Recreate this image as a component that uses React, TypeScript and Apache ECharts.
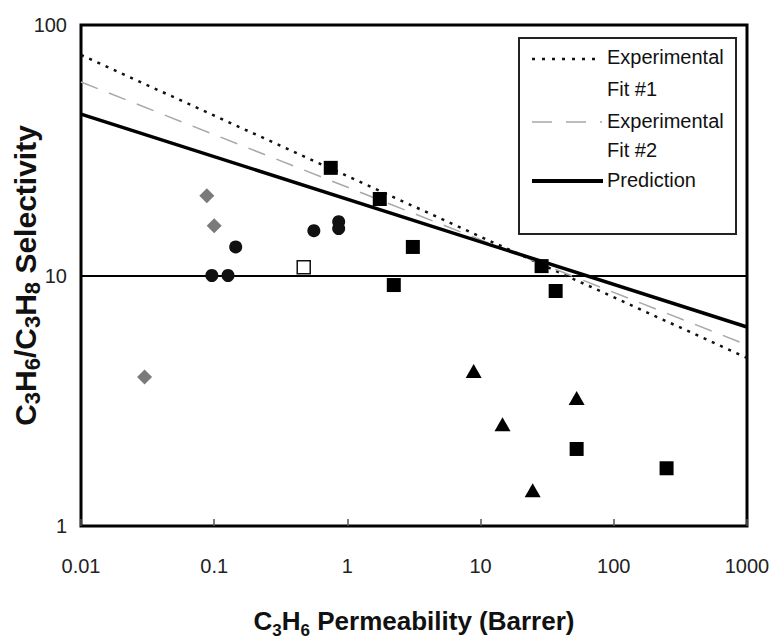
import React, { useEffect, useRef } from "react";
import * as echarts from "echarts";

// Axis ticks
const xTicks = [0.01, 0.1, 1, 10, 100, 1000];
const xTickLabels = ["0.01", "0.1", "1", "10", "100", "1000"];
const yTicks = [1, 10, 100];
const yTickLabels = ["1", "10", "100"];

// Fit / prediction lines (straight on log-log), endpoints at x = 0.01 and 1000
const lineX = [0.01, 1000];
const fit1Y = [75.9, 4.69];
const fit2Y = [59.2, 5.28];
const predictionY = [44.1, 6.23];

// Scatter data (C3H6 permeability [Barrer], selectivity)
const diamondX = [0.088, 0.1, 0.03];
const diamondY = [20.8, 15.8, 3.93];

const circleX = [0.096, 0.127, 0.145, 0.56, 0.86, 0.86];
const circleY = [10.0, 10.0, 13.0, 15.1, 16.4, 15.4];

const openSquareX = [0.47];
const openSquareY = [10.8];

const squareX = [0.75, 1.75, 3.1, 2.23, 28.7, 36.6, 52.6, 249];
const squareY = [26.9, 20.2, 13.0, 9.16, 10.9, 8.67, 2.03, 1.7];

const triangleX = [8.87, 14.6, 24.6, 52.6];
const triangleY = [4.16, 2.55, 1.39, 3.24];

const zip = (xs: number[], ys: number[]) => xs.map((x, i) => [x, ys[i]]);

const FONT = "'Liberation Sans', Arial, Helvetica, sans-serif";

function tickLabel(ticks: number[], labels: string[], v: number) {
  const i = ticks.findIndex((t) => Math.abs(Math.log10(t) - Math.log10(v)) < 1e-6);
  return i >= 0 ? labels[i] : "";
}

export default function App() {
  const ref = useRef<HTMLDivElement>(null);

  useEffect(() => {
    document.body.style.margin = "0";
    if (!ref.current) return;
    const chart = echarts.init(ref.current, undefined, { renderer: "svg" });

    const option: any = {
      animation: false,
      backgroundColor: "#fff",
      grid: {
        left: 81,
        right: 29,
        top: 25,
        bottom: 113,
        show: true,
        borderColor: "#000",
        borderWidth: 3,
        backgroundColor: "transparent",
        containLabel: false,
        outerBoundsMode: "none",
      },
      xAxis: {
        type: "log",
        logBase: 10,
        min: 0.01,
        max: 1000,
        axisLine: { show: false },
        axisTick: { show: true, inside: true, length: 7, lineStyle: { color: "#555", width: 1.5 } },
        splitLine: { show: false },
        axisLabel: {
          margin: 30,
          fontSize: 20,
          color: "#222",
          fontFamily: FONT,
          formatter: (v: number) => tickLabel(xTicks, xTickLabels, v),
        },
        name: "{b|C}{s|3}{b|H}{s|6}{b| Permeability (Barrer)}",
        nameLocation: "middle",
        nameGap: 81,
        nameMoveOverlap: false,
        nameTextStyle: {
          rich: {
            b: { fontSize: 26, fontWeight: "bold", fontFamily: FONT, color: "#111", lineHeight: 28 },
            s: {
              fontSize: 17,
              fontWeight: "bold",
              fontFamily: FONT,
              color: "#111",
              lineHeight: 28,
              verticalAlign: "bottom",
              padding: [0, 0, -4, 0],
            },
          },
        },
      },
      yAxis: {
        type: "log",
        logBase: 10,
        min: 1,
        max: 100,
        axisLine: { show: false },
        axisTick: { show: false },
        splitLine: { show: true, lineStyle: { color: "#000", width: 2 } },
        axisLabel: {
          margin: 14,
          fontSize: 20,
          color: "#222",
          fontFamily: FONT,
          formatter: (v: number) => tickLabel(yTicks, yTickLabels, v),
        },
        name: "{b|C}{s|3}{b|H}{s|6}{b|/C}{s|3}{b|H}{s|8}{b| Selectivity}",
        nameLocation: "middle",
        nameRotate: 90,
        nameGap: 40,
        nameMoveOverlap: false,
        nameTextStyle: {
          rich: {
            b: { fontSize: 30, fontWeight: "bold", fontFamily: FONT, color: "#111", lineHeight: 32 },
            s: {
              fontSize: 22,
              fontWeight: "bold",
              fontFamily: FONT,
              color: "#111",
              lineHeight: 32,
              verticalAlign: "bottom",
              padding: [0, 0, -2, 0],
            },
          },
        },
      },
      series: [
        {
          name: "Experimental Fit #1",
          type: "line",
          data: zip(lineX, fit1Y),
          symbol: "none",
          lineStyle: { color: "#111", width: 2.5, type: [3, 6] },
          z: 2,
        },
        {
          name: "Experimental Fit #2",
          type: "line",
          data: zip(lineX, fit2Y),
          symbol: "none",
          lineStyle: { color: "#a8a8a8", width: 1.5, type: [18, 12] },
          z: 2,
        },
        {
          name: "Prediction",
          type: "line",
          data: zip(lineX, predictionY),
          symbol: "none",
          lineStyle: { color: "#000", width: 3.5 },
          z: 2,
        },
        {
          name: "Diamonds",
          type: "scatter",
          data: zip(diamondX, diamondY),
          symbol: "diamond",
          symbolSize: 15,
          itemStyle: { color: "#7a7a7a", opacity: 1 },
          z: 3,
        },
        {
          name: "Circles",
          type: "scatter",
          data: zip(circleX, circleY),
          symbol: "circle",
          symbolSize: 13,
          itemStyle: { color: "#111", opacity: 1 },
          z: 3,
        },
        {
          name: "Open squares",
          type: "scatter",
          data: zip(openSquareX, openSquareY),
          symbol: "rect",
          symbolSize: 13,
          itemStyle: { color: "#fff", borderColor: "#111", borderWidth: 1.5, opacity: 1 },
          z: 3,
        },
        {
          name: "Squares",
          type: "scatter",
          data: zip(squareX, squareY),
          symbol: "rect",
          symbolSize: 14,
          itemStyle: { color: "#000", opacity: 1 },
          z: 3,
        },
        {
          name: "Triangles",
          type: "scatter",
          data: zip(triangleX, triangleY),
          symbol: "triangle",
          symbolSize: [16, 14],
          itemStyle: { color: "#000", opacity: 1 },
          z: 3,
        },
      ],
      graphic: [
        {
          type: "group",
          z: 10,
          children: [
            {
              type: "rect",
              shape: { x: 519, y: 38, width: 217, height: 196 },
              style: { fill: "#fff", stroke: "#222", lineWidth: 2 },
            },
            {
              type: "line",
              shape: { x1: 532, y1: 59, x2: 597, y2: 59 },
              style: { stroke: "#111", lineWidth: 2.5, lineDash: [3, 7] },
            },
            {
              type: "line",
              shape: { x1: 532, y1: 122, x2: 602, y2: 122 },
              style: { stroke: "#a8a8a8", lineWidth: 1.5, lineDash: [20, 14] },
            },
            {
              type: "line",
              shape: { x1: 532, y1: 181, x2: 603, y2: 181 },
              style: { stroke: "#000", lineWidth: 4 },
            },
            ...[
              ["Experimental", 57],
              ["Fit #1", 89],
              ["Experimental", 121],
              ["Fit #2", 150],
              ["Prediction", 180],
            ].map(([t, y]) => ({
              type: "text",
              x: 607,
              y: y as number,
              style: {
                text: t as string,
                fontSize: 20,
                fontFamily: FONT,
                fill: "#111",
                verticalAlign: "middle",
                align: "left",
              },
            })),
          ],
        },
      ],
    };

    chart.setOption(option);
    return () => {
      chart.dispose();
    };
  }, []);

  return <div ref={ref} style={{ width: 776, height: 639, overflow: "hidden" }} />;
}
